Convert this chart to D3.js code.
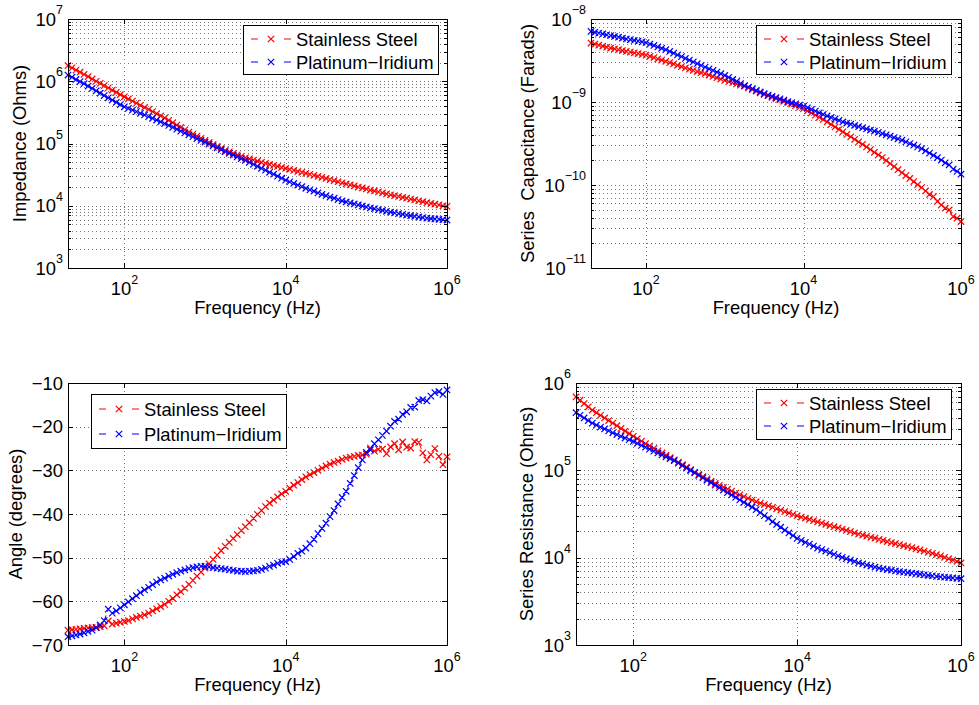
<!DOCTYPE html>
<html>
<head>
<meta charset="utf-8">
<script src="https://cdn.jsdelivr.net/npm/d3@7"></script>
<style>
  body { margin: 0; background: #fff; }
  svg { display: block; }
  text { font-family: "Liberation Sans", Arial, Helvetica, sans-serif; fill: #000; }
</style>
</head>
<body>
<svg width="979" height="705"></svg>
<script>
// ---- data ----
const seriesNames = ["Stainless Steel", "Platinum\u2212Iridium"];
const xTickValues = [1e2, 1e4, 1e6];
const angleTicks = [-70, -60, -50, -40, -30, -20, -10];

const freq = [
  20, 22.4, 25.1, 28.2, 31.6, 35.5, 39.8, 44.7, 50.1, 56.2, 63.1, 70.8, 79.4, 89.1,
  100, 112, 126, 141, 158, 178, 200, 224, 251, 282, 316, 355, 398, 447, 501, 562, 631, 708, 794, 891,
  1000, 1122, 1259, 1413, 1585, 1778, 1995, 2239, 2512, 2818, 3162, 3548, 3981, 4467, 5012, 5623, 6310, 7079, 7943, 8913,
  1e4, 1.122e4, 1.259e4, 1.413e4, 1.585e4, 1.778e4, 1.995e4, 2.239e4, 2.512e4, 2.818e4, 3.162e4, 3.548e4, 3.981e4, 4.467e4, 5.012e4, 5.623e4, 6.310e4, 7.079e4, 7.943e4, 8.913e4,
  1e5, 1.122e5, 1.259e5, 1.413e5, 1.585e5, 1.778e5, 1.995e5, 2.239e5, 2.512e5, 2.818e5, 3.162e5, 3.548e5, 3.981e5, 4.467e5, 5.012e5, 5.623e5, 6.310e5, 7.079e5, 7.943e5, 8.913e5,
  1e6
];

const impedanceSS = [
  1.78e6, 1.64e6, 1.51e6, 1.40e6, 1.29e6, 1.19e6, 1.09e6, 1.00e6, 9.25e5, 8.51e5, 7.83e5, 7.21e5, 6.64e5, 6.11e5,
  5.62e5, 5.20e5, 4.81e5, 4.45e5, 4.11e5, 3.80e5, 3.52e5, 3.25e5, 3.01e5, 2.78e5, 2.57e5, 2.36e5, 2.16e5, 1.98e5, 1.81e5, 1.66e5, 1.53e5, 1.42e5, 1.31e5, 1.21e5,
  1.12e5, 1.04e5, 9.68e4, 8.99e4, 8.36e4, 7.76e4, 7.35e4, 6.95e4, 6.58e4, 6.22e4, 5.89e4, 5.65e4, 5.42e4, 5.20e4, 4.99e4, 4.79e4, 4.61e4, 4.45e4, 4.29e4, 4.13e4,
  3.98e4, 3.84e4, 3.70e4, 3.56e4, 3.44e4, 3.31e4, 3.19e4, 3.08e4, 2.96e4, 2.86e4, 2.75e4, 2.64e4, 2.54e4, 2.43e4, 2.33e4, 2.24e4, 2.16e4, 2.08e4, 2.00e4, 1.93e4,
  1.86e4, 1.79e4, 1.73e4, 1.67e4, 1.61e4, 1.55e4, 1.50e4, 1.45e4, 1.41e4, 1.36e4, 1.32e4, 1.28e4, 1.24e4, 1.20e4, 1.16e4, 1.12e4, 1.09e4, 1.06e4, 1.03e4, 1.00e4,
  9.77e3
];
const impedancePI = [
  1.26e6, 1.16e6, 1.07e6, 9.89e5, 9.12e5, 8.36e5, 7.66e5, 7.02e5, 6.43e5, 5.89e5, 5.42e5, 4.99e5, 4.59e5, 4.23e5,
  3.89e5, 3.66e5, 3.45e5, 3.25e5, 3.06e5, 2.88e5, 2.70e5, 2.54e5, 2.38e5, 2.23e5, 2.09e5, 1.95e5, 1.82e5, 1.70e5, 1.58e5, 1.48e5, 1.38e5, 1.29e5, 1.20e5, 1.12e5,
  1.05e5, 9.77e4, 9.12e4, 8.51e4, 7.94e4, 7.41e4, 6.95e4, 6.52e4, 6.11e4, 5.73e4, 5.37e4, 4.99e4, 4.63e4, 4.31e4, 4.00e4, 3.72e4, 3.45e4, 3.21e4, 2.98e4, 2.77e4,
  2.57e4, 2.42e4, 2.28e4, 2.15e4, 2.02e4, 1.91e4, 1.80e4, 1.71e4, 1.61e4, 1.53e4, 1.45e4, 1.38e4, 1.32e4, 1.26e4, 1.20e4, 1.15e4, 1.11e4, 1.07e4, 1.03e4, 9.91e3,
  9.55e3, 9.25e3, 8.95e3, 8.67e3, 8.39e3, 8.13e3, 7.91e3, 7.69e3, 7.48e3, 7.28e3, 7.08e3, 6.92e3, 6.76e3, 6.61e3, 6.46e3, 6.31e3, 6.22e3, 6.14e3, 6.05e3, 5.97e3,
  5.89e3
];

const capacitanceSS = [
  5.13e-9, 4.98e-9, 4.84e-9, 4.70e-9, 4.57e-9, 4.47e-9, 4.37e-9, 4.27e-9, 4.17e-9, 4.07e-9, 3.99e-9, 3.91e-9, 3.83e-9, 3.75e-9,
  3.67e-9, 3.55e-9, 3.43e-9, 3.31e-9, 3.20e-9, 3.09e-9, 2.98e-9, 2.87e-9, 2.77e-9, 2.67e-9, 2.57e-9, 2.49e-9, 2.41e-9, 2.33e-9, 2.26e-9, 2.19e-9, 2.11e-9, 2.03e-9, 1.96e-9, 1.89e-9,
  1.82e-9, 1.76e-9, 1.71e-9, 1.65e-9, 1.60e-9, 1.55e-9, 1.48e-9, 1.41e-9, 1.35e-9, 1.29e-9, 1.23e-9, 1.19e-9, 1.14e-9, 1.10e-9, 1.06e-9, 1.02e-9, 9.82e-10, 9.42e-10, 9.04e-10, 8.67e-10,
  8.32e-10, 7.83e-10, 7.38e-10, 6.95e-10, 6.55e-10, 6.17e-10, 5.75e-10, 5.37e-10, 5.01e-10, 4.68e-10, 4.37e-10, 4.07e-10, 3.80e-10, 3.55e-10, 3.31e-10, 3.09e-10, 2.87e-10, 2.67e-10, 2.48e-10, 2.30e-10,
  2.14e-10, 1.97e-10, 1.81e-10, 1.67e-10, 1.53e-10, 1.41e-10, 1.30e-10, 1.20e-10, 1.10e-10, 1.01e-10, 9.33e-11, 8.47e-11, 7.69e-11, 7.24e-11, 6.34e-11, 5.75e-11, 5.25e-11, 5.01e-11, 4.17e-11, 3.98e-11,
  3.63e-11
];
const capacitancePI = [
  7.08e-9, 6.92e-9, 6.76e-9, 6.61e-9, 6.46e-9, 6.31e-9, 6.17e-9, 6.03e-9, 5.89e-9, 5.75e-9, 5.64e-9, 5.52e-9, 5.41e-9, 5.30e-9,
  5.19e-9, 4.99e-9, 4.80e-9, 4.61e-9, 4.44e-9, 4.27e-9, 4.06e-9, 3.87e-9, 3.69e-9, 3.52e-9, 3.35e-9, 3.19e-9, 3.04e-9, 2.90e-9, 2.76e-9, 2.63e-9, 2.51e-9, 2.40e-9, 2.29e-9, 2.19e-9,
  2.09e-9, 1.98e-9, 1.87e-9, 1.77e-9, 1.67e-9, 1.58e-9, 1.51e-9, 1.45e-9, 1.38e-9, 1.32e-9, 1.26e-9, 1.21e-9, 1.17e-9, 1.13e-9, 1.09e-9, 1.05e-9, 1.01e-9, 9.82e-10, 9.51e-10, 9.20e-10,
  8.91e-10, 8.51e-10, 8.13e-10, 7.76e-10, 7.41e-10, 7.08e-10, 6.79e-10, 6.52e-10, 6.25e-10, 6.00e-10, 5.75e-10, 5.57e-10, 5.40e-10, 5.22e-10, 5.06e-10, 4.90e-10, 4.74e-10, 4.59e-10, 4.45e-10, 4.31e-10,
  4.17e-10, 4.02e-10, 3.87e-10, 3.73e-10, 3.60e-10, 3.47e-10, 3.31e-10, 3.16e-10, 3.02e-10, 2.88e-10, 2.75e-10, 2.58e-10, 2.42e-10, 2.27e-10, 2.13e-10, 2.00e-10, 1.85e-10, 1.75e-10, 1.55e-10, 1.46e-10,
  1.35e-10
];

const angleSS = [
  -66.6, -66.5, -66.4, -66.3, -66.2, -66.1, -66.0, -66.0, -65.8, -65.6, -64.5, -65.2, -65.0, -64.8,
  -64.6, -64.4, -64.0, -63.7, -63.4, -63.1, -62.7, -62.2, -61.7, -61.2, -60.7, -60.0, -59.3, -58.5, -57.8, -57.0, -56.1, -55.2, -54.2, -53.3,
  -52.4, -51.4, -50.4, -49.4, -48.4, -47.4, -46.5, -45.6, -44.7, -43.8, -42.9, -42.0, -41.0, -40.1, -39.2, -38.3, -37.5, -36.8, -36.1, -35.4,
  -34.8, -34.1, -33.4, -32.8, -32.1, -31.5, -31.0, -30.5, -30.0, -29.5, -29.0, -28.6, -28.2, -27.9, -27.5, -27.2, -27.0, -26.8, -26.6, -26.5,
  -26.3, -24.9, -25.6, -25.2, -25.1, -26.2, -24.6, -23.9, -25.3, -23.5, -24.7, -24.9, -23.4, -23.6, -26.0, -27.6, -26.4, -25.0, -26.8, -28.7,
  -26.9
];
const anglePI = [
  -68.1, -67.9, -67.7, -67.5, -67.2, -66.9, -66.6, -66.0, -65.4, -64.4, -61.8, -62.7, -62.2, -61.5,
  -60.8, -60.1, -59.4, -58.7, -58.0, -57.4, -56.8, -56.2, -55.6, -55.1, -54.7, -54.2, -53.8, -53.4, -53.1, -52.8, -52.5, -52.3, -52.1, -52.0,
  -52.0, -52.1, -52.3, -52.4, -52.5, -52.6, -52.8, -52.9, -53.1, -53.1, -53.2, -53.1, -53.0, -52.9, -52.7, -52.4, -52.0, -51.7, -51.3, -51.0,
  -50.9, -50.4, -49.7, -49.0, -48.5, -47.8, -46.8, -45.8, -44.5, -43.3, -42.1, -40.6, -39.2, -37.7, -36.2, -34.8, -33.0, -31.2, -29.4, -27.6,
  -25.9, -25.3, -23.9, -23.0, -22.0, -21.0, -19.9, -18.8, -18.3, -17.2, -16.6, -15.6, -15.5, -14.0, -13.8, -14.1, -13.0, -12.2, -12.0, -12.6,
  -11.6
];

const resistanceSS = [
  6.92e5, 6.35e5, 5.82e5, 5.34e5, 4.90e5, 4.57e5, 4.27e5, 3.98e5, 3.72e5, 3.47e5, 3.24e5, 3.02e5, 2.82e5, 2.63e5,
  2.45e5, 2.30e5, 2.16e5, 2.02e5, 1.90e5, 1.78e5, 1.67e5, 1.58e5, 1.49e5, 1.40e5, 1.32e5, 1.24e5, 1.16e5, 1.09e5, 1.02e5, 9.55e4, 8.99e4, 8.47e4, 7.98e4, 7.52e4,
  7.08e4, 6.73e4, 6.40e4, 6.08e4, 5.78e4, 5.50e4, 5.25e4, 5.01e4, 4.79e4, 4.57e4, 4.37e4, 4.21e4, 4.06e4, 3.91e4, 3.77e4, 3.63e4, 3.50e4, 3.37e4, 3.25e4, 3.13e4,
  3.02e4, 2.92e4, 2.83e4, 2.74e4, 2.65e4, 2.57e4, 2.49e4, 2.41e4, 2.33e4, 2.26e4, 2.19e4, 2.12e4, 2.05e4, 1.99e4, 1.92e4, 1.86e4, 1.81e4, 1.76e4, 1.71e4, 1.67e4,
  1.62e4, 1.58e4, 1.53e4, 1.49e4, 1.45e4, 1.41e4, 1.37e4, 1.34e4, 1.30e4, 1.26e4, 1.23e4, 1.19e4, 1.15e4, 1.12e4, 1.08e4, 1.05e4, 1.01e4, 9.73e3, 9.38e3, 9.04e3,
  8.71e3
];
const resistancePI = [
  4.57e5, 4.27e5, 3.98e5, 3.72e5, 3.47e5, 3.30e5, 3.13e5, 2.98e5, 2.83e5, 2.69e5, 2.57e5, 2.45e5, 2.34e5, 2.24e5,
  2.14e5, 2.03e5, 1.93e5, 1.84e5, 1.75e5, 1.66e5, 1.58e5, 1.50e5, 1.43e5, 1.36e5, 1.29e5, 1.21e5, 1.13e5, 1.06e5, 9.95e4, 9.33e4, 8.75e4, 8.20e4, 7.69e4, 7.21e4,
  6.76e4, 6.34e4, 5.94e4, 5.57e4, 5.22e4, 4.90e4, 4.59e4, 4.31e4, 4.04e4, 3.78e4, 3.55e4, 3.28e4, 3.03e4, 2.81e4, 2.59e4, 2.40e4, 2.23e4, 2.07e4, 1.92e4, 1.79e4,
  1.66e4, 1.58e4, 1.50e4, 1.43e4, 1.36e4, 1.29e4, 1.24e4, 1.19e4, 1.14e4, 1.09e4, 1.05e4, 1.01e4, 9.73e3, 9.38e3, 9.04e3, 8.71e3, 8.47e3, 8.24e3, 8.02e3, 7.80e3,
  7.59e3, 7.45e3, 7.31e3, 7.18e3, 7.05e3, 6.92e3, 6.82e3, 6.73e3, 6.64e3, 6.55e3, 6.46e3, 6.37e3, 6.28e3, 6.19e3, 6.11e3, 6.03e3, 5.97e3, 5.92e3, 5.86e3, 5.81e3,
  5.75e3
];

// ---- layout / style ----
const colors = ["#ff0000", "#0000ff"];
const fontSize = 18.4;
const supSize = 12.5;
const gridColor = "#7a7a7a";

const panels = [
  { x0: 68, x1: 447, y0: 19, y1: 268, log: true, yDomain: [1e3, 1e7],
    yLabel: "Impedance (Ohms)", yLabelX: 26, series: [impedanceSS, impedancePI],
    legend: { x: 243, y: 25, w: 195, h: 49, rows: [14, 37] } },
  { x0: 591, x1: 961, y0: 19, y1: 268, log: true, yDomain: [1e-11, 1e-8],
    yLabel: "Series  Capacitance (Farads)", yLabelX: 534, series: [capacitanceSS, capacitancePI],
    legend: { x: 756, y: 25, w: 195, h: 49, rows: [14, 37] } },
  { x0: 68, x1: 447, y0: 383, y1: 645, log: false, yDomain: [-70, -10],
    yLabel: "Angle (degrees)", yLabelX: 22, series: [angleSS, anglePI],
    legend: { x: 91, y: 394, w: 195, h: 54, rows: [15, 40] } },
  { x0: 576, x1: 961, y0: 383, y1: 645, log: true, yDomain: [1e3, 1e6],
    yLabel: "Series Resistance (Ohms)", yLabelX: 533, series: [resistanceSS, resistancePI],
    legend: { x: 756, y: 389, w: 195, h: 50, rows: [14, 37] } }
];

const svg = d3.select("svg");

function crossPath(px, py, r) {
  return `M${px - r},${py - r}L${px + r},${py + r}M${px - r},${py + r}L${px + r},${py - r}`;
}

function powerLabel(text, v) {
  const e = Math.round(Math.log10(v));
  text.append("tspan").text("10");
  text.append("tspan").attr("dy", -11.5).attr("font-size", supSize)
    .text(e < 0 ? "\u2212" + (-e) : e);
}

function isPow10(v) {
  const l = Math.log10(v);
  return Math.abs(l - Math.round(l)) < 1e-6;
}

panels.forEach(p => {
  const x = d3.scaleLog().domain([20, 1e6]).range([p.x0, p.x1]);
  const y = (p.log ? d3.scaleLog() : d3.scaleLinear()).domain(p.yDomain).range([p.y1, p.y0]);
  const g = svg.append("g");
  const snap = v => Math.round(v) + 0.5;

  const allY = p.log ? y.ticks() : angleTicks;
  const majorY = p.log ? allY.filter(isPow10) : angleTicks;
  const minorY = p.log ? allY.filter(v => !isPow10(v)) : [];

  // dotted grid
  g.selectAll(".gy").data(allY.filter(v => y(v) > p.y0 + 1 && y(v) < p.y1 - 1))
    .enter().append("line")
    .attr("x1", p.x0).attr("x2", p.x1)
    .attr("y1", d => snap(y(d))).attr("y2", d => snap(y(d)))
    .attr("stroke", gridColor).attr("stroke-dasharray", "1,3");
  g.selectAll(".gx").data(xTickValues.filter(v => x(v) < p.x1 - 1))
    .enter().append("line")
    .attr("y1", p.y0).attr("y2", p.y1)
    .attr("x1", d => snap(x(d))).attr("x2", d => snap(x(d)))
    .attr("stroke", gridColor).attr("stroke-dasharray", "1,3");

  // series
  p.series.forEach((vals, i) => {
    const pts = freq.map((f, k) => [x(f), y(vals[k])]);
    g.append("path")
      .attr("d", d3.line()(pts))
      .attr("fill", "none").attr("stroke", colors[i])
      .attr("stroke-width", 1).attr("stroke-dasharray", "6,4");
    g.append("path")
      .attr("d", pts.map(q => crossPath(q[0], q[1], 3.2)).join(""))
      .attr("fill", "none").attr("stroke", colors[i]).attr("stroke-width", 1.2);
  });

  // axes box
  g.append("rect")
    .attr("x", snap(p.x0)).attr("y", snap(p.y0))
    .attr("width", Math.round(p.x1 - p.x0)).attr("height", Math.round(p.y1 - p.y0))
    .attr("fill", "none").attr("stroke", "#000");

  // inward ticks on all sides
  const tickPath = [];
  majorY.forEach(v => { const yy = snap(y(v)); tickPath.push(`M${p.x0},${yy}h5M${p.x1},${yy}h-5`); });
  minorY.forEach(v => { const yy = snap(y(v)); tickPath.push(`M${p.x0},${yy}h3M${p.x1},${yy}h-3`); });
  xTickValues.forEach(v => { const xx = snap(x(v)); tickPath.push(`M${xx},${p.y1}v-5M${xx},${p.y0}v5`); });
  g.append("path").attr("d", tickPath.join("")).attr("stroke", "#000").attr("fill", "none");

  // y tick labels
  majorY.forEach(v => {
    const t = g.append("text")
      .attr("x", p.x0 - 5).attr("y", y(v) + 6.5)
      .attr("text-anchor", "end").attr("font-size", fontSize);
    if (p.log) powerLabel(t, v); else t.text(v < 0 ? "\u2212" + (-v) : v);
  });

  // x tick labels
  xTickValues.forEach(v => {
    const t = g.append("text")
      .attr("x", x(v)).attr("y", p.y1 + 27)
      .attr("text-anchor", "middle").attr("font-size", fontSize);
    powerLabel(t, v);
  });

  // axis labels
  g.append("text")
    .attr("x", (p.x0 + p.x1) / 2).attr("y", p.y1 + 46)
    .attr("text-anchor", "middle").attr("font-size", fontSize)
    .text("Frequency (Hz)");
  g.append("text")
    .attr("transform", `translate(${p.yLabelX},${(p.y0 + p.y1) / 2}) rotate(-90)`)
    .attr("text-anchor", "middle").attr("font-size", fontSize)
    .style("white-space", "pre")
    .text(p.yLabel);

  // legend
  const L = p.legend;
  const lg = g.append("g");
  lg.append("rect")
    .attr("x", snap(L.x)).attr("y", snap(L.y)).attr("width", L.w).attr("height", L.h)
    .attr("fill", "#fff").attr("stroke", "#000");
  seriesNames.forEach((name, i) => {
    const ry = L.y + L.rows[i];
    lg.append("line")
      .attr("x1", L.x + 8).attr("x2", L.x + 48).attr("y1", ry).attr("y2", ry)
      .attr("stroke", colors[i]).attr("stroke-dasharray", "7,26");
    lg.append("path").attr("d", crossPath(L.x + 28, ry, 3.2))
      .attr("stroke", colors[i]).attr("stroke-width", 1.2).attr("fill", "none");
    lg.append("text")
      .attr("x", L.x + 53).attr("y", ry + 6.5)
      .attr("font-size", fontSize).text(name);
  });
});
</script>
</body>
</html>
